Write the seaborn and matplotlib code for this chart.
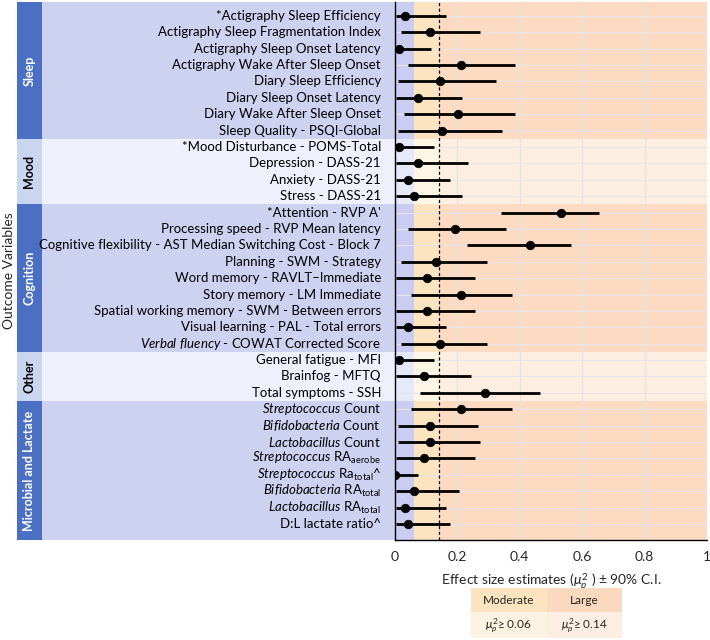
import numpy as np
import pandas as pd
import seaborn as sns
import matplotlib
matplotlib.use("Agg")
import matplotlib.pyplot as plt
from matplotlib.patches import Rectangle

sns.set_style("white")
plt.rcParams['font.family'] = ['Lato', 'DejaVu Sans']
plt.rcParams['mathtext.fontset'] = 'custom'
plt.rcParams['mathtext.rm'] = 'Lato'
plt.rcParams['mathtext.it'] = 'Lato:italic'
plt.rcParams['mathtext.bf'] = 'Lato:bold'

# ---------------- data ----------------
groups = ["Sleep", "Mood", "Cognition", "Other", "Microbial and Lactate"]
group_sizes = [8, 4, 9, 3, 8]

labels = [
    "*Actigraphy Sleep Efficiency",
    "Actigraphy Sleep Fragmentation Index",
    "Actigraphy Sleep Onset Latency",
    "Actigraphy Wake After Sleep Onset",
    "Diary Sleep Efficiency",
    "Diary Sleep Onset Latency",
    "Diary Wake After Sleep Onset",
    "Sleep Quality - PSQI-Global",
    "*Mood Disturbance - POMS-Total",
    "Depression - DASS-21",
    "Anxiety - DASS-21",
    "Stress - DASS-21",
    "*Attention - RVP A'",
    "Processing speed - RVP Mean latency",
    "Cognitive flexibility - AST Median Switching Cost - Block 7",
    "Planning - SWM - Strategy",
    "Word memory - RAVLT\u2013Immediate",
    "Story memory - LM Immediate",
    "Spatial working memory - SWM - Between errors",
    "Visual learning - PAL - Total errors",
    r"$\mathit{Verbal\ fluency}$ - COWAT Corrected Score",
    "General fatigue - MFI",
    "Brainfog - MFTQ",
    "Total symptoms - SSH",
    r"$\mathit{Streptococcus}$ Count",
    r"$\mathit{Bifidobacteria}$ Count",
    r"$\mathit{Lactobacillus}$ Count",
    r"$\mathit{Streptococcus}$ RA$_{\mathrm{aerobe}}$",
    r"$\mathit{Streptococcus}$ Ra$_{\mathrm{total}}$^",
    r"$\mathit{Bifidobacteria}$ RA$_{\mathrm{total}}$",
    r"$\mathit{Lactobacillus}$ RA$_{\mathrm{total}}$",
    "D:L lactate ratio^",
]

estimate = [0.032, 0.113, 0.013, 0.212, 0.143, 0.073, 0.202, 0.152,
            0.013, 0.073, 0.043, 0.062,
            0.531, 0.193, 0.432, 0.133, 0.103, 0.212, 0.103, 0.043, 0.143,
            0.013, 0.092, 0.289,
            0.212, 0.113, 0.113, 0.092, 0.001, 0.062, 0.032, 0.043]
ci_low = [0.004, 0.020, 0.000, 0.042, 0.011, 0.003, 0.030, 0.011,
          0.000, 0.003, 0.003, 0.003,
          0.341, 0.042, 0.231, 0.020, 0.003, 0.052, 0.003, 0.003, 0.020,
          0.000, 0.003, 0.081,
          0.052, 0.011, 0.011, 0.003, 0.000, 0.003, 0.003, 0.003]
ci_high = [0.165, 0.274, 0.115, 0.385, 0.325, 0.214, 0.385, 0.344,
           0.124, 0.234, 0.175, 0.214,
           0.654, 0.355, 0.565, 0.296, 0.255, 0.374, 0.255, 0.165, 0.295,
           0.124, 0.244, 0.465,
           0.374, 0.265, 0.274, 0.255, 0.074, 0.204, 0.165, 0.175]

moderate_thr = 0.06
large_thr = 0.14
x_ticks = [0, 0.2, 0.4, 0.6, 0.8, 1]
x_ticklabels = ["0", "0.2", "0.4", "0.6", "0.8", "1"]

df = pd.DataFrame({"label": labels, "est": estimate, "lo": ci_low, "hi": ci_high})
df["pos"] = np.arange(len(df))

# ---------------- styles ----------------
dark = {"bar": "#4a6fc3", "bg": "#cdd2f1", "c0": "#c9cdf1", "c1": "#fbe4bf", "c2": "#fcdbc2", "txt": "white"}
light = {"bar": "#cad5ef", "bg": "#eef0fb", "c0": "#e6e9f9", "c1": "#fdf6e6", "c2": "#fdeee2", "txt": "black"}
styles = [dark, light, dark, light, dark]

W, H = 710, 640
fig = plt.figure(figsize=(W / 100, H / 100), dpi=100)
ax_left, ax_right, ax_top, ax_bot = 395, 707, 2, 540
lab_left = 17
ylim = (len(df) - 1 + 0.98, -0.85)

ax_lab = fig.add_axes([lab_left / W, 1 - ax_bot / H, (ax_left - lab_left) / W, (ax_bot - ax_top) / H])
ax = fig.add_axes([ax_left / W, 1 - ax_bot / H, (ax_right - ax_left) / W, (ax_bot - ax_top) / H])

ax_lab.set_xlim(0, ax_left - lab_left)
ax_lab.set_ylim(*ylim)
ax_lab.axis("off")

start = 0
for g, n, st in zip(groups, group_sizes, styles):
    y0 = start - 0.5
    y1 = start + n - 0.5
    if start == 0:
        y0 = ylim[1]
    if start + n == len(df):
        y1 = ylim[0]
    # label area
    ax_lab.add_patch(Rectangle((0, y0), 25, y1 - y0, color=st["bar"], lw=0, zorder=0))
    ax_lab.add_patch(Rectangle((25, y0), ax_left - lab_left - 25, y1 - y0, color=st["bg"], lw=0, zorder=0))
    ax_lab.text(12.5, (y0 + y1) / 2, g, rotation=90, ha="center", va="center",
                fontsize=9, fontweight="bold", color=st["txt"])
    # plot area bands
    ax.add_patch(Rectangle((0, y0), moderate_thr, y1 - y0, color=st["c0"], lw=0, zorder=0.1))
    ax.add_patch(Rectangle((moderate_thr, y0), large_thr - moderate_thr, y1 - y0, color=st["c1"], lw=0, zorder=0.1))
    ax.add_patch(Rectangle((large_thr, y0), 1 - large_thr, y1 - y0, color=st["c2"], lw=0, zorder=0.1))
    start += n

for p, lab in zip(df["pos"], df["label"]):
    ax_lab.text(364, p, lab, ha="right", va="center", fontsize=9.5, color="black")

# grid
for xv in x_ticks[1:-1]:
    ax.axvline(xv, color="#e6e2e0", lw=1, zorder=0.5)
for p in df["pos"]:
    ax.axhline(p, color="#e6e4e6", lw=0.8, zorder=0.5)

ax.axvline(large_thr, color="black", lw=0.9, ls=(0, (2.5, 2)), zorder=2)
ax.hlines(df["pos"], df["lo"], df["hi"], color="black", lw=2, zorder=3)
sns.scatterplot(data=df, x="est", y="pos", color="black", s=38, edgecolor="black",
                zorder=4, ax=ax, legend=False)

ax.set_xlim(0, 1)
ax.set_ylim(*ylim)
ax.set_yticks([])
ax.set_ylabel("")
ax.set_xticks(x_ticks)
ax.set_xticklabels(x_ticklabels, fontsize=10)
ax.tick_params(axis="x", length=0, pad=8)
ax.set_xlabel(r"Effect size estimates ($\mu_p^2$ ) $\pm$ 90% C.I.", fontsize=10, labelpad=6)
for s in ["top", "right"]:
    ax.spines[s].set_visible(False)
for s in ["left", "bottom"]:
    ax.spines[s].set_color("black")
    ax.spines[s].set_linewidth(1)

fig.text(9 / W, 1 - 271 / H, "Outcome Variables", rotation=90, ha="center", va="center", fontsize=10)

# legend table
lx0, lx1, ly0, ly1 = 471, 622, 588, 638
axl = fig.add_axes([lx0 / W, 1 - ly1 / H, (lx1 - lx0) / W, (ly1 - ly0) / H])
axl.set_xlim(0, 2)
axl.set_ylim(0, 2)
axl.axis("off")
axl.add_patch(Rectangle((0, 1.05), 1, 0.95, color="#fbe4bf", lw=0))
axl.add_patch(Rectangle((1, 1.05), 1, 0.95, color="#fad9bf", lw=0))
axl.add_patch(Rectangle((0, 0), 1, 1.05, color="#fdf3e2", lw=0))
axl.add_patch(Rectangle((1, 0), 1, 1.05, color="#fdeee3", lw=0))
axl.text(0.5, 1.52, "Moderate", ha="center", va="center", fontsize=8.5)
axl.text(1.5, 1.52, "Large", ha="center", va="center", fontsize=8.5)
axl.text(0.5, 0.5, r"$\mu_p^2$" + "\u2265 0.06", ha="center", va="center", fontsize=8.5)
axl.text(1.5, 0.5, r"$\mu_p^2$" + "\u2265 0.14", ha="center", va="center", fontsize=8.5)

fig.savefig("out.png", dpi=100)
